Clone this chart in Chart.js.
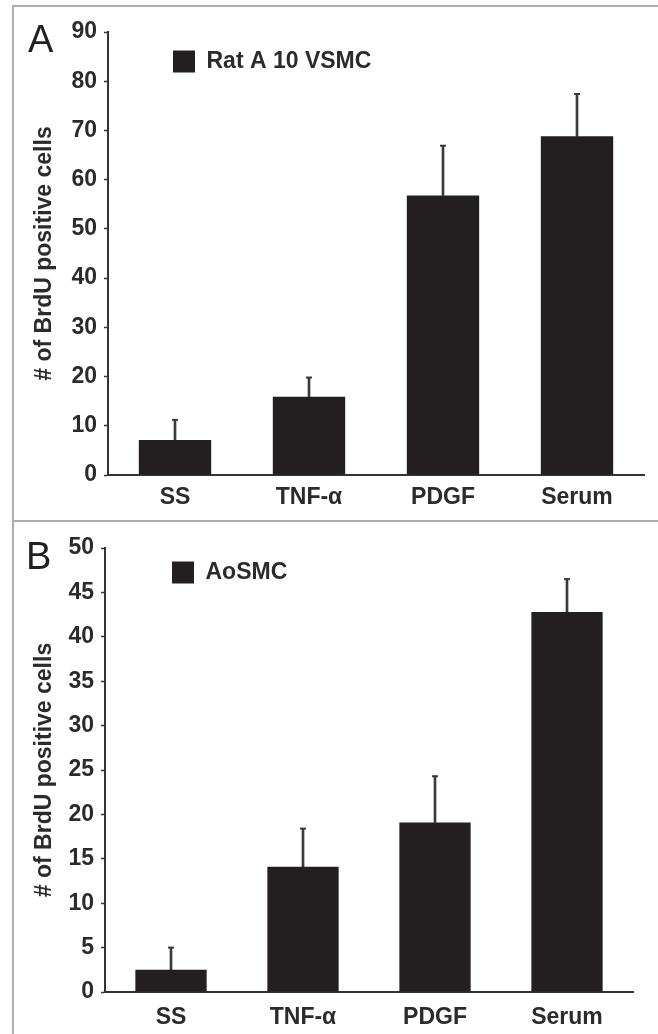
<!DOCTYPE html>
<html>
<head>
<meta charset="utf-8">
<script src="https://cdn.jsdelivr.net/npm/chart.js@4.4.1/dist/chart.umd.min.js"></script>
<style>
  html, body { margin: 0; padding: 0; background: #fff; }
  body { width: 658px; height: 1034px; position: relative; overflow: hidden; font-family: "Liberation Sans", Arial, sans-serif; }
  .rule { position: absolute; background: #adadad; }
  .panel { position: absolute; left: 0; width: 658px; }
  .letter { position: absolute; font-size: 38px; line-height: 1; color: #231f20; }
</style>
</head>
<body>
<div class="rule" style="left:12px;top:5px;width:2px;height:1029px"></div>
<div class="rule" style="left:12px;top:5px;width:646px;height:2px"></div>
<div class="rule" style="left:12px;top:520px;width:646px;height:2px"></div>
<div class="panel" style="top:0;height:522px"><canvas id="chartA"></canvas></div>
<div class="panel" style="top:522px;height:512px"><canvas id="chartB"></canvas></div>
<div class="letter" style="left:28px;top:20px">A</div>
<div class="letter" style="left:26px;top:537px">B</div>
<script>
const categories = ["SS", "TNF-α", "PDGF", "Serum"];
const yTitle = "# of BrdU positive cells";

const ratName = "Rat A 10 VSMC";
const ratMeans = [7.1, 15.9, 56.8, 68.8];
const ratErrors = [4.1, 3.9, 10.1, 8.6];

const aoName = "AoSMC";
const aoMeans = [2.5, 14.1, 19.1, 42.8];
const aoErrors = [2.5, 4.3, 5.2, 3.7];

const ink = "#231f20";
const textInk = "#2b2b2b";
const whisker = "#3a3a3a";
const labelFont = { family: "'Liberation Sans', Arial, sans-serif", size: 23, weight: "bold" };

// put the legend where the figure has it, inside the plot area
const legendSpot = {
  id: "legendSpot",
  afterLayout(chart, args, opts) {
    const lg = chart.legend, area = chart.chartArea;
    lg.left = area.left + opts.dx;
    lg.top = area.top + opts.dy;
    lg.right = area.right;
    lg.bottom = area.bottom;
  }
};

function makeChart(id, seriesName, means, errors, yMax, yStep, frame) {
  const tops = means.map((m, i) => m + errors[i]);
  return new Chart(document.getElementById(id), {
    type: "bar",
    data: {
      labels: categories,
      datasets: [
        {
          label: seriesName,
          data: means,
          backgroundColor: ink,
          borderWidth: 0,
          grouped: false,
          categoryPercentage: 1,
          barPercentage: frame.bar,
          order: 1
        },
        {
          label: "sd",
          data: means.map((m, i) => [m, tops[i]]),
          backgroundColor: whisker,
          grouped: false,
          barThickness: 2,
          order: 2
        },
        {
          type: "line",
          label: "cap",
          data: tops,
          showLine: false,
          pointStyle: "line",
          pointRadius: 3,
          pointBorderWidth: 2,
          pointBorderColor: whisker,
          borderColor: whisker,
          order: 0
        }
      ]
    },
    plugins: [legendSpot],
    options: {
      responsive: true,
      maintainAspectRatio: false,
      animation: false,
      layout: { padding: { left: 0, top: frame.top, right: frame.right, bottom: 0 } },
      plugins: {
        legend: {
          display: true,
          position: "chartArea",
          align: "start",
          labels: {
            filter: (item) => item.datasetIndex === 0,
            boxWidth: 22,
            boxHeight: 22,
            padding: 10,
            color: textInk,
            font: labelFont
          }
        },
        legendSpot: { dx: frame.legendDx, dy: frame.legendDy },
        tooltip: { enabled: false }
      },
      scales: {
        x: {
          offset: true,
          grid: { display: false, drawTicks: false },
          border: { display: true, color: "#333", width: 2 },
          ticks: { color: textInk, font: labelFont, padding: frame.xPad },
          afterFit(s) { s.height = frame.xHeight; }
        },
        y: {
          min: 0,
          max: yMax,
          ticks: { stepSize: yStep, color: textInk, font: labelFont, padding: 7 },
          grid: { drawOnChartArea: false, drawTicks: true, tickLength: 4, tickColor: "#333", tickWidth: 1.5 },
          border: { display: true, color: "#333", width: 2 },
          title: { display: true, text: yTitle, color: textInk, font: labelFont, padding: { top: 31, bottom: 0 } },
          afterFit(s) { s.width = frame.yWidth; }
        }
      }
    }
  });
}

makeChart("chartA", ratName, ratMeans, ratErrors, 90, 10,
  { top: 32, right: 14, yWidth: 108, xHeight: 47, xPad: 9, bar: 0.54, legendDx: 55, legendDy: 8 });
makeChart("chartB", aoName, aoMeans, aoErrors, 50, 5,
  { top: 26, right: 25, yWidth: 105, xHeight: 42, xPad: 12, bar: 0.54, legendDx: 57, legendDy: 3 });
</script>
</body>
</html>
